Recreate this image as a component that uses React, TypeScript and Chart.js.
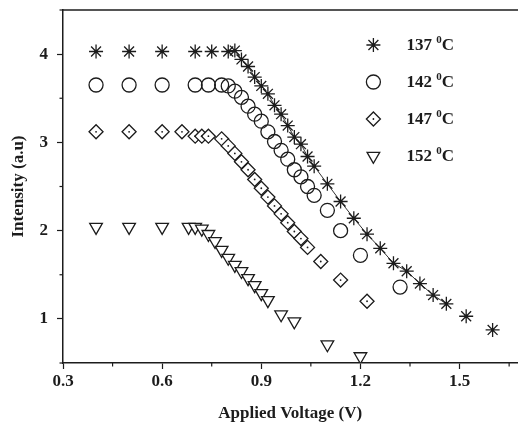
import React, { useEffect, useRef } from 'react';
import { Chart, registerables } from 'chart.js';
import { drawPoint } from 'chart.js/helpers';

Chart.register(...registerables);

// ---- data ----
const x137 = [0.4, 0.5, 0.6, 0.7, 0.75, 0.8, 0.82, 0.84, 0.86, 0.88, 0.9, 0.92, 0.94, 0.96, 0.98, 1.0, 1.02, 1.04, 1.06, 1.1, 1.14, 1.18, 1.22, 1.26, 1.3, 1.34, 1.38, 1.42, 1.46, 1.52, 1.6];
const y137 = [4.03, 4.03, 4.03, 4.03, 4.03, 4.03, 4.04, 3.94, 3.86, 3.74, 3.64, 3.55, 3.42, 3.32, 3.19, 3.06, 2.98, 2.84, 2.73, 2.53, 2.33, 2.14, 1.96, 1.8, 1.63, 1.54, 1.4, 1.27, 1.17, 1.03, 0.875];

const x142 = [0.4, 0.5, 0.6, 0.7, 0.74, 0.78, 0.8, 0.82, 0.84, 0.86, 0.88, 0.9, 0.92, 0.94, 0.96, 0.98, 1.0, 1.02, 1.04, 1.06, 1.1, 1.14, 1.2, 1.32];
const y142 = [3.65, 3.65, 3.65, 3.65, 3.65, 3.65, 3.64, 3.58, 3.51, 3.41, 3.32, 3.24, 3.12, 3.01, 2.91, 2.81, 2.69, 2.61, 2.5, 2.4, 2.23, 2.0, 1.72, 1.36];

const x147 = [0.4, 0.5, 0.6, 0.66, 0.7, 0.72, 0.74, 0.78, 0.8, 0.82, 0.84, 0.86, 0.88, 0.9, 0.92, 0.94, 0.96, 0.98, 1.0, 1.02, 1.04, 1.08, 1.14, 1.22];
const y147 = [3.12, 3.12, 3.12, 3.12, 3.07, 3.07, 3.07, 3.04, 2.96, 2.875, 2.78, 2.69, 2.58, 2.48, 2.38, 2.28, 2.19, 2.09, 1.99, 1.91, 1.81, 1.65, 1.44, 1.2];

const x152 = [0.4, 0.5, 0.6, 0.68, 0.7, 0.72, 0.74, 0.76, 0.78, 0.8, 0.82, 0.84, 0.86, 0.88, 0.9, 0.92, 0.96, 1.0, 1.1, 1.2];
const y152 = [2.04, 2.04, 2.04, 2.04, 2.04, 2.02, 1.96, 1.88, 1.78, 1.69, 1.61, 1.54, 1.46, 1.38, 1.29, 1.21, 1.05, 0.97, 0.71, 0.575];

const seriesTemps = ['137', '142', '147', '152'];
const xTickLabelsEvery = 0.3;
const yTickLabelsEvery = 1;

const INK = '#1c1c1c';
const FONT = '"Liberation Serif", "Times New Roman", serif';

// the plot frame runs past the right edge of the picture; the canvas is a little wider
// than the 518px view and the overflow is clipped.
const VIEW_W = 518;
const VIEW_H = 424;
const CANVAS_W = 526;

const toPts = (xs: number[], ys: number[]) => xs.map((x, i) => ({ x, y: ys[i] }));

const styles = [
  { pointStyle: 'star', rotation: 0, radius: 7, borderWidth: 1.3, dot: 1.6, bg: 'transparent' },
  { pointStyle: 'circle', rotation: 0, radius: 7, borderWidth: 1.3, dot: 0, bg: 'rgba(255,255,255,0)' },
  { pointStyle: 'rectRot', rotation: 0, radius: 7, borderWidth: 1.3, dot: 0.9, bg: '#ffffff' },
  { pointStyle: 'triangle', rotation: 180, radius: 7.3, borderWidth: 1.3, dot: 0, bg: '#ffffff' },
];

const isMult = (v: number, step: number) => Math.abs(v / step - Math.round(v / step)) < 1e-6;

const extras = {
  id: 'extras',
  afterDatasetsDraw(chart: any) {
    const ctx = chart.ctx;
    chart.data.datasets.forEach((_ds: any, i: number) => {
      const dot = styles[i].dot;
      if (!dot) return;
      const meta = chart.getDatasetMeta(i);
      ctx.save();
      ctx.fillStyle = INK;
      meta.data.forEach((el: any) => {
        ctx.beginPath();
        ctx.arc(el.x, el.y, dot, 0, Math.PI * 2);
        ctx.fill();
      });
      ctx.restore();
    });
  },
  afterDraw(chart: any) {
    const ctx = chart.ctx;
    const { left, right, top, bottom } = chart.chartArea;
    ctx.save();
    // top frame line
    ctx.strokeStyle = INK;
    ctx.lineWidth = 1.5;
    ctx.beginPath();
    ctx.moveTo(left, top);
    ctx.lineTo(right + 8, top);
    ctx.stroke();
    // minor ticks
    ctx.lineWidth = 1.2;
    const xs = chart.scales.x;
    xs.ticks.forEach((t: any) => {
      if (isMult(t.value, xTickLabelsEvery)) return;
      const px = xs.getPixelForValue(t.value);
      ctx.beginPath();
      ctx.moveTo(px, bottom);
      ctx.lineTo(px, bottom + 3.5);
      ctx.stroke();
    });
    const ys = chart.scales.y;
    ys.ticks.forEach((t: any) => {
      if (isMult(t.value, yTickLabelsEvery)) return;
      const py = ys.getPixelForValue(t.value);
      ctx.beginPath();
      ctx.moveTo(left, py);
      ctx.lineTo(left - 3.5, py);
      ctx.stroke();
    });
    // legend
    seriesTemps.forEach((temp, i) => {
      const st = styles[i];
      const sx = right - 144;
      const sy = top + 35 + i * 37;
      ctx.strokeStyle = INK;
      ctx.fillStyle = st.bg === 'transparent' ? 'rgba(0,0,0,0)' : st.bg;
      ctx.lineWidth = st.borderWidth;
      drawPoint(ctx, { pointStyle: st.pointStyle as any, rotation: st.rotation, radius: st.radius, borderWidth: st.borderWidth }, sx, sy);
      if (st.dot) {
        ctx.fillStyle = INK;
        ctx.beginPath();
        ctx.arc(sx, sy, st.dot, 0, Math.PI * 2);
        ctx.fill();
      }
      ctx.fillStyle = INK;
      ctx.textBaseline = 'middle';
      ctx.textAlign = 'left';
      let tx = right - 111;
      ctx.font = `bold 17px ${FONT}`;
      const main = temp + ' ';
      ctx.fillText(main, tx, sy + 1);
      tx += ctx.measureText(main).width;
      ctx.font = `bold 11px ${FONT}`;
      ctx.fillText('0', tx, sy - 5);
      tx += ctx.measureText('0').width;
      ctx.font = `bold 17px ${FONT}`;
      ctx.fillText('C', tx, sy + 1);
    });
    ctx.restore();
  },
};

export default function App() {
  const ref = useRef<HTMLCanvasElement | null>(null);
  useEffect(() => {
    if (!ref.current) return;
    const series = [toPts(x137, y137), toPts(x142, y142), toPts(x147, y147), toPts(x152, y152)];
    const datasets: any[] = series.map((data, i) => {
      const st = styles[i];
      const ds: any = {
        label: seriesTemps[i] + ' \u2070C',
        data,
        pointStyle: st.pointStyle,
        rotation: st.rotation,
        pointRadius: st.radius,
        pointBorderWidth: st.borderWidth,
        pointBorderColor: INK,
        pointBackgroundColor: st.bg,
        borderColor: INK,
        showLine: false,
      };
      if (i === 0) {
        ds.showLine = true;
        ds.borderWidth = 1;
        ds.borderColor = '#333';
        ds.segment = {
          borderColor: (c: any) => (c.p0.parsed.x >= 0.79 && c.p1.parsed.x <= 1.47 ? '#333' : 'rgba(0,0,0,0)'),
        };
      }
      return ds;
    });
    const tickFont = { family: FONT, size: 17, weight: 'bold' as const };
    const chart = new Chart(ref.current, {
      type: 'scatter',
      data: { datasets },
      options: {
        animation: false,
        responsive: false,
        maintainAspectRatio: false,
        layout: { padding: { top: 10, right: 0, left: 0, bottom: 0 } },
        plugins: { legend: { display: false }, tooltip: { enabled: false } },
        scales: {
          x: {
            type: 'linear',
            min: 0.3,
            max: 1.675,
            afterFit: (s: any) => { s.height = 61; s.paddingLeft = 0; s.paddingRight = 0; },
            grid: {
              display: true,
              drawOnChartArea: false,
              drawTicks: true,
              tickLength: 6,
              tickWidth: 1.2,
              tickColor: (c: any) => (c.tick && isMult(c.tick.value, xTickLabelsEvery) ? INK : 'rgba(0,0,0,0)'),
            },
            border: { display: true, color: INK, width: 1.5 },
            ticks: {
              stepSize: 0.15,
              includeBounds: false,
              autoSkip: false,
              maxRotation: 0,
              padding: 2,
              color: INK,
              font: tickFont,
              callback: (v: any) => (isMult(Number(v), xTickLabelsEvery) ? Number(v).toFixed(1) : ''),
            },
            title: {
              display: true,
              text: 'Applied Voltage (V)',
              color: INK,
              font: { family: FONT, size: 17, weight: 'bold' },
              padding: { top: 0, bottom: 0 },
            },
          },
          y: {
            type: 'linear',
            min: 0.5,
            max: 4.5,
            afterFit: (s: any) => { s.width = 63; s.paddingTop = 0; s.paddingBottom = 0; },
            grid: {
              display: true,
              drawOnChartArea: false,
              drawTicks: true,
              tickLength: 6,
              tickWidth: 1.2,
              tickColor: (c: any) => (c.tick && isMult(c.tick.value, yTickLabelsEvery) ? INK : 'rgba(0,0,0,0)'),
            },
            border: { display: true, color: INK, width: 1.5 },
            ticks: {
              stepSize: 0.5,
              includeBounds: false,
              autoSkip: false,
              padding: 9,
              color: INK,
              font: tickFont,
              callback: (v: any) => (isMult(Number(v), yTickLabelsEvery) ? String(Math.round(Number(v))) : ''),
            },
            title: {
              display: true,
              text: 'Intensity (a.u)',
              color: INK,
              font: { family: FONT, size: 17, weight: 'bold' },
              padding: { top: 8, bottom: 0 },
            },
          },
        },
      },
      plugins: [extras],
    } as any);
    return () => chart.destroy();
  }, []);
  return (
    <div style={{ position: 'absolute', left: 0, top: 0, width: VIEW_W, height: VIEW_H, overflow: 'hidden', background: '#fff' }}>
      <canvas ref={ref} width={CANVAS_W} height={VIEW_H} style={{ display: 'block', width: CANVAS_W, height: VIEW_H }} />
    </div>
  );
}
